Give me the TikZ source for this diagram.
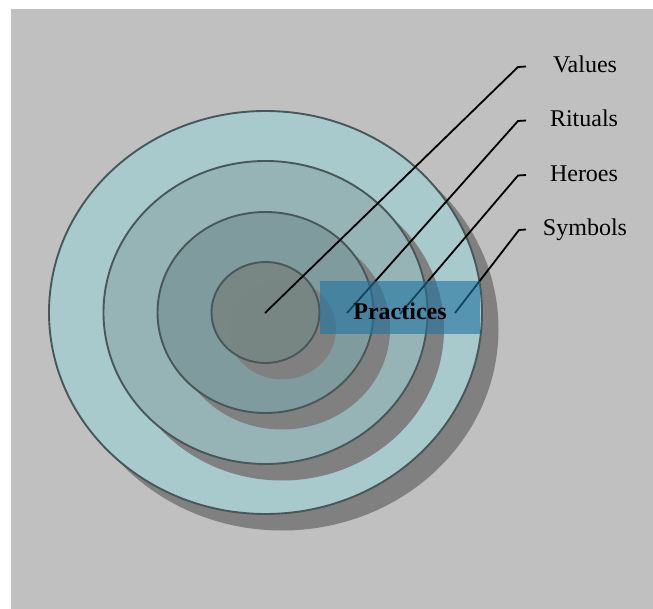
\documentclass[tikz,border=0pt]{standalone}
\usepackage{fontspec}
\setmainfont{Liberation Serif}
\definecolor{bggrey}{RGB}{192,192,192}
\definecolor{shadowgrey}{RGB}{128,128,128}
\definecolor{ringedge}{RGB}{72,88,90}
\definecolor{ringA}{RGB}{168,202,205}
\definecolor{ringB}{RGB}{150,180,182}
\definecolor{ringC}{RGB}{128,155,158}
\definecolor{ringD}{RGB}{120,135,132}
\definecolor{practblue}{RGB}{30,115,160}
\begin{document}
\begin{tikzpicture}[x=1pt,y=-1pt,
  ring/.style={draw=ringedge, line width=1.9pt},
  shadowfill/.style={fill=shadowgrey},
  leader/.style={draw=black, line width=1.8pt},
  lbl/.style={font=\fontsize{24}{28}\selectfont, anchor=base, inner sep=0pt}]
\useasboundingbox (0,0) rectangle (653,609);
\fill[bggrey] (11,9) rectangle (653,609);
% rings with shadows
\def\cx{265.5}\def\cy{312.5}\def\sh{16.5}
\fill[shadowfill] (\cx+\sh,\cy+\sh) ellipse [x radius=216.5pt, y radius=201.5pt];
\filldraw[ring, fill=ringA] (\cx,\cy) ellipse [x radius=216.5pt, y radius=201.5pt];
\fill[shadowfill] (\cx+\sh,\cy+\sh) ellipse [x radius=162pt, y radius=151.5pt];
\filldraw[ring, fill=ringB] (\cx,\cy) ellipse [x radius=162pt, y radius=151.5pt];
\fill[shadowfill] (\cx+\sh,\cy+\sh) ellipse [x radius=108pt, y radius=100.5pt];
\filldraw[ring, fill=ringC] (\cx,\cy) ellipse [x radius=108pt, y radius=100.5pt];
\fill[shadowfill] (\cx+\sh,\cy+\sh) ellipse [x radius=54pt, y radius=50.5pt];
\filldraw[ring, fill=ringD, fill opacity=0.97] (\cx,\cy) ellipse [x radius=54pt, y radius=50.5pt];
% labels
\node[lbl] (values)  at (585,73)    {Values};
\node[lbl] (rituals) at (584,127)   {Rituals};
\node[lbl] (heroes)  at (584,181.5) {Heroes};
\node[lbl] (symbols) at (585,236)   {Symbols};
% leader coordinates
\coordinate (vs) at (265,313);   \coordinate (vk) at (518,67);    \coordinate (ve) at (526,66.5);
\coordinate (rs) at (347,313);   \coordinate (rk) at (518,121);   \coordinate (re) at (526,120.5);
\coordinate (hs) at (400,314);   \coordinate (hk) at (518,175.5); \coordinate (he) at (526,175);
\coordinate (ss) at (455,313);   \coordinate (sk) at (519,230);   \coordinate (se) at (526,229.5);
\draw[leader] (vs) -- (vk) -- (ve);
\draw[leader] (rs) -- (rk) -- (re);
\draw[leader] (hs) -- (hk) -- (he);
\draw[leader] (ss) -- (sk) -- (se);
% practices band
\fill[practblue, fill opacity=0.6] (320,281) rectangle (480,334);
\node[lbl, font=\fontsize{24}{28}\selectfont\bfseries] (practices) at (400,319.5) {Practices};
\end{tikzpicture}
\end{document}
